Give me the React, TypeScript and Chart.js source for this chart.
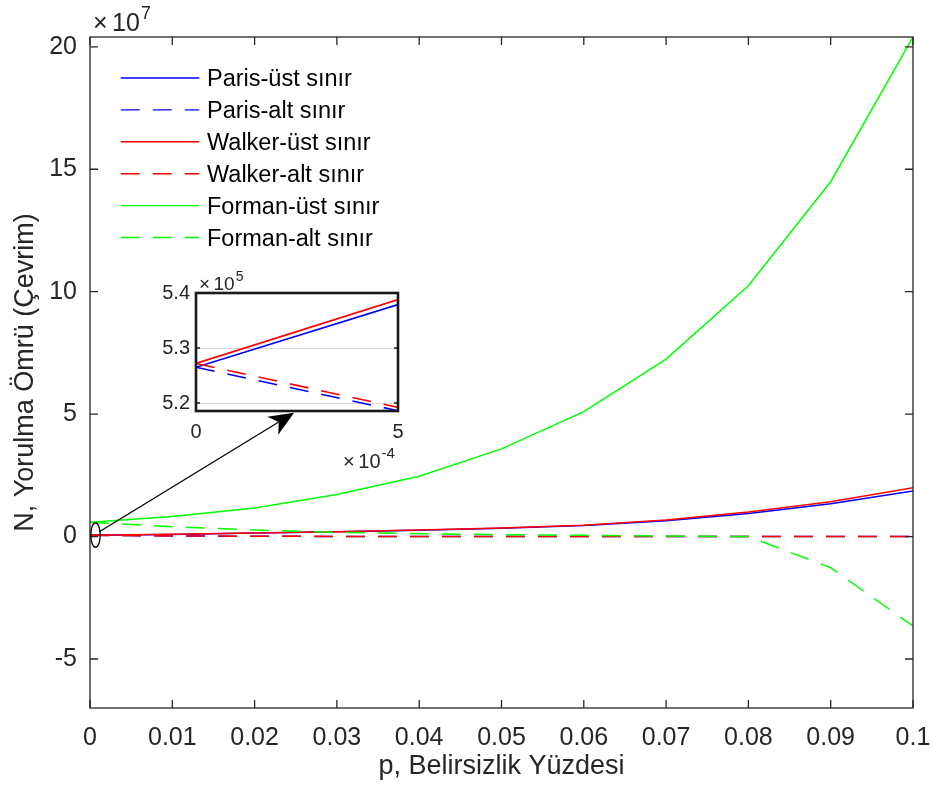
import React, { useEffect, useRef } from "react";
import { Chart, registerables } from "chart.js";

Chart.register(...registerables);

const FONT = "'Liberation Sans', Arial, Helvetica, sans-serif";
const AXIS_COLOR = "#262626";

// ---- main chart data ----
const pValues = [0, 0.01, 0.02, 0.03, 0.04, 0.05, 0.06, 0.07, 0.08, 0.09, 0.1];
const parisUpper = [5.265e5, 0.088e7, 0.145e7, 0.195e7, 0.26e7, 0.34e7, 0.45e7, 0.65e7, 0.94e7, 1.34e7, 1.86e7];
const parisLower = [5.265e5, 0.024e7, 0.012e7, 0.006e7, 0.003e7, 0.0015e7, 0.0008e7, 0.0004e7, 0.0002e7, 0.0001e7, 0.00005e7];
const walkerUpper = [5.272e5, 0.09e7, 0.15e7, 0.2e7, 0.27e7, 0.35e7, 0.46e7, 0.68e7, 1.0e7, 1.42e7, 1.99e7];
const walkerLower = [5.272e5, 0.026e7, 0.013e7, 0.007e7, 0.0035e7, 0.0018e7, 0.0009e7, 0.0005e7, 0.0002e7, 0.0001e7, 0.00005e7];
const formanUpper = [0.59e7, 0.82e7, 1.17e7, 1.72e7, 2.46e7, 3.58e7, 5.1e7, 7.25e7, 10.24e7, 14.49e7, 20.4e7];
const formanLower = [0.59e7, 0.4e7, 0.27e7, 0.17e7, 0.12e7, 0.08e7, 0.05e7, 0.02e7, 0, -1.27e7, -3.65e7];

const seriesLabels = [
  "Paris-üst sınır",
  "Paris-alt sınır",
  "Walker-üst sınır",
  "Walker-alt sınır",
  "Forman-üst sınır",
  "Forman-alt sınır",
];
const seriesValues = [parisUpper, parisLower, walkerUpper, walkerLower, formanUpper, formanLower];
const seriesColors = ["#0000ff", "#0000ff", "#ff0000", "#ff0000", "#00ff00", "#00ff00"];
const seriesDashed = [false, true, false, true, false, true];

const xTickValues = [0, 0.01, 0.02, 0.03, 0.04, 0.05, 0.06, 0.07, 0.08, 0.09, 0.1];
const yTickValues = [-5e7, 0, 5e7, 10e7, 15e7, 20e7];
const xRange = [0, 0.1];
const yRange = [-7e7, 20.4e7];
const xTitle = "p, Belirsizlik Yüzdesi";
const yTitle = "N, Yorulma Ömrü (Çevrim)";
const yExponent = "7";

// zoom marker (ellipse at origin) and arrow, in data units
const markerCenter = [0.00067, 0.065e7];
const markerRadius = [0.00057, 0.5e7];
const arrowFrom = [0.00113, 0.196e7];
const arrowTo = [0.0248, 5.06e7];

// ---- inset data ----
const insetX = [0, 0.0005];
const insetParisUpper = [5.265e5, 5.379e5];
const insetParisLower = [5.265e5, 5.186e5];
const insetWalkerUpper = [5.272e5, 5.388e5];
const insetWalkerLower = [5.272e5, 5.192e5];
const insetValues = [insetParisUpper, insetParisLower, insetWalkerUpper, insetWalkerLower];
const insetColors = ["#0000ff", "#0000ff", "#ff0000", "#ff0000"];
const insetDashed = [false, true, false, true];
const insetXTicks = [0, 0.0005];
const insetYTicks = [5.2e5, 5.3e5, 5.4e5];
const insetXRange = [0, 0.0005];
const insetYRange = [5.1855e5, 5.4e5];

const DASH = [19, 13];

function drawExponent(ctx: CanvasRenderingContext2D, x: number, y: number, exp: string, size: number, supSize: number) {
  ctx.fillStyle = AXIS_COLOR;
  ctx.textAlign = "left";
  ctx.textBaseline = "alphabetic";
  ctx.font = `${size}px ${FONT}`;
  ctx.fillText("×", x, y);
  const w1 = ctx.measureText("×").width;
  ctx.fillText("10", x + w1 + size * 0.18, y);
  const w2 = ctx.measureText("10").width;
  ctx.font = `${supSize}px ${FONT}`;
  ctx.fillText(exp, x + w1 + size * 0.18 + w2 + 1, y - size * 0.5);
}

const mainDecor = {
  id: "mainDecor",
  afterDatasetsDraw(chart: any) {
    const { ctx, chartArea: a, scales } = chart;
    const x = scales.x;
    const y = scales.y;
    ctx.save();
    // frame + inward ticks
    ctx.strokeStyle = AXIS_COLOR;
    ctx.lineWidth = 1.3;
    ctx.strokeRect(a.left, a.top, a.right - a.left, a.bottom - a.top);
    const tl = 8;
    ctx.beginPath();
    xTickValues.forEach((v) => {
      const px = x.getPixelForValue(v);
      ctx.moveTo(px, a.bottom);
      ctx.lineTo(px, a.bottom - tl);
      ctx.moveTo(px, a.top);
      ctx.lineTo(px, a.top + tl);
    });
    yTickValues.forEach((v) => {
      const py = y.getPixelForValue(v);
      ctx.moveTo(a.left, py);
      ctx.lineTo(a.left + tl, py);
      ctx.moveTo(a.right, py);
      ctx.lineTo(a.right - tl, py);
    });
    ctx.stroke();

    // exponent label
    drawExponent(ctx, a.left + 3, a.top - 6, yExponent, 25, 18);

    // legend
    const lx0 = a.left + 30.7;
    const lx1 = a.left + 109.3;
    const tx = a.left + 117;
    const ly0 = a.top + 41;
    const step = 31.9;
    chart.data.datasets.forEach((ds: any, i: number) => {
      const ly = ly0 + i * step;
      ctx.strokeStyle = ds.borderColor;
      ctx.lineWidth = 1.4;
      ctx.setLineDash(ds.borderDash || []);
      ctx.beginPath();
      ctx.moveTo(lx0, ly);
      ctx.lineTo(lx1, ly);
      ctx.stroke();
      ctx.setLineDash([]);
      ctx.fillStyle = "#000000";
      ctx.font = `23.5px ${FONT}`;
      ctx.textAlign = "left";
      ctx.textBaseline = "middle";
      ctx.fillText(ds.label, tx, ly + 1.6);
    });

    // marker ellipse
    const cx = x.getPixelForValue(markerCenter[0]);
    const cy = y.getPixelForValue(markerCenter[1]);
    const rx = Math.abs(x.getPixelForValue(markerCenter[0] + markerRadius[0]) - cx);
    const ry = Math.abs(y.getPixelForValue(markerCenter[1] + markerRadius[1]) - cy);
    ctx.strokeStyle = "#000000";
    ctx.lineWidth = 1.3;
    ctx.beginPath();
    ctx.ellipse(cx, cy, rx, ry, 0, 0, Math.PI * 2);
    ctx.stroke();

    // arrow
    const sx = x.getPixelForValue(arrowFrom[0]);
    const sy = y.getPixelForValue(arrowFrom[1]);
    const ex = x.getPixelForValue(arrowTo[0]);
    const ey = y.getPixelForValue(arrowTo[1]);
    const dx = ex - sx;
    const dy = ey - sy;
    const len = Math.hypot(dx, dy);
    const ux = dx / len;
    const uy = dy / len;
    const L = 25;
    const W = 10.5;
    const bx = ex - ux * L;
    const by = ey - uy * L;
    const nx = ex - ux * L * 0.72;
    const ny = ey - uy * L * 0.72;
    ctx.beginPath();
    ctx.moveTo(sx, sy);
    ctx.lineTo(nx, ny);
    ctx.stroke();
    ctx.fillStyle = "#000000";
    ctx.beginPath();
    ctx.moveTo(ex, ey);
    ctx.lineTo(bx - uy * W, by + ux * W);
    ctx.lineTo(nx, ny);
    ctx.lineTo(bx + uy * W, by - ux * W);
    ctx.closePath();
    ctx.fill();
    ctx.restore();
  },
};

const insetDecor = {
  id: "insetDecor",
  beforeDraw(chart: any) {
    const { ctx, chartArea: a } = chart;
    ctx.save();
    ctx.fillStyle = "#ffffff";
    ctx.fillRect(a.left, a.top, a.right - a.left, a.bottom - a.top);
    ctx.restore();
  },
  afterDatasetsDraw(chart: any) {
    const { ctx, chartArea: a, scales } = chart;
    const y = scales.y;
    ctx.save();
    ctx.strokeStyle = "#1a1a1a";
    ctx.lineWidth = 2.6;
    ctx.strokeRect(a.left, a.top, a.right - a.left, a.bottom - a.top);
    ctx.lineWidth = 1.6;
    ctx.beginPath();
    insetYTicks.forEach((v) => {
      const py = y.getPixelForValue(v);
      ctx.moveTo(a.left, py);
      ctx.lineTo(a.left + 4, py);
      ctx.moveTo(a.right, py);
      ctx.lineTo(a.right - 4, py);
    });
    ctx.stroke();
    drawExponent(ctx, a.left + 3, a.top - 3, "5", 19, 14);
    drawExponent(ctx, a.right - 55, a.bottom + 57, "-4", 20, 15);
    ctx.restore();
  },
};

function fmtX(v: number) {
  return String(Number(v.toFixed(3)));
}

function zeroPadding(s: any) {
  s.paddingLeft = 0;
  s.paddingRight = 0;
  s.paddingTop = 0;
  s.paddingBottom = 0;
}

export default function App() {
  const mainRef = useRef<HTMLCanvasElement>(null);
  const insetRef = useRef<HTMLCanvasElement>(null);

  useEffect(() => {
    document.body.style.margin = "0";
    const datasets = seriesLabels.map((label, i) => ({
      label,
      data: pValues.map((p, j) => ({ x: p, y: seriesValues[i][j] })),
      borderColor: seriesColors[i],
      backgroundColor: seriesColors[i],
      borderWidth: 1.5,
      borderDash: seriesDashed[i] ? DASH : [],
      pointRadius: 0,
      tension: 0,
      fill: false,
      order: 10 - i,
    }));

    const main = new Chart(mainRef.current as HTMLCanvasElement, {
      type: "line",
      data: { datasets },
      options: {
        animation: false,
        responsive: false,
        maintainAspectRatio: false,
        events: [],
        layout: { padding: { top: 37, right: 18, left: 0, bottom: 0 } },
        plugins: { legend: { display: false }, tooltip: { enabled: false } },
        scales: {
          x: {
            type: "linear",
            min: xRange[0],
            max: xRange[1],
            afterBuildTicks: (s: any) => {
              s.ticks = xTickValues.map((v) => ({ value: v }));
            },
            afterFit: (s: any) => {
              s.height = 84;
              zeroPadding(s);
            },
            ticks: {
              callback: (v: any) => fmtX(Number(v)),
              font: { family: FONT, size: 25 },
              color: AXIS_COLOR,
              maxRotation: 0,
              autoSkip: false,
              padding: 15,
            },
            grid: { display: false, drawTicks: false },
            border: { display: false },
            title: {
              display: true,
              text: xTitle,
              font: { family: FONT, size: 27 },
              color: AXIS_COLOR,
              padding: { top: 9, bottom: 9 },
            },
          },
          y: {
            type: "linear",
            min: yRange[0],
            max: yRange[1],
            afterBuildTicks: (s: any) => {
              s.ticks = yTickValues.map((v) => ({ value: v }));
            },
            afterFit: (s: any) => {
              s.width = 90;
              zeroPadding(s);
            },
            ticks: {
              callback: (v: any) => String(Math.round(Number(v) / 1e7)),
              font: { family: FONT, size: 25 },
              color: AXIS_COLOR,
              padding: 13,
            },
            grid: { display: false, drawTicks: false },
            border: { display: false },
            title: {
              display: true,
              text: yTitle,
              font: { family: FONT, size: 27 },
              color: AXIS_COLOR,
              padding: { top: 9, bottom: 9 },
            },
          },
        },
      },
      plugins: [mainDecor],
    } as any);

    const insetDatasets = insetValues.map((vals, i) => ({
      label: seriesLabels[i],
      data: insetX.map((p, j) => ({ x: p, y: vals[j] })),
      borderColor: insetColors[i],
      borderWidth: 1.6,
      borderDash: insetDashed[i] ? DASH : [],
      pointRadius: 0,
      tension: 0,
      fill: false,
      order: 10 - i,
    }));

    const inset = new Chart(insetRef.current as HTMLCanvasElement, {
      type: "line",
      data: { datasets: insetDatasets },
      options: {
        animation: false,
        responsive: false,
        maintainAspectRatio: false,
        events: [],
        layout: { padding: { top: 28, right: 12, left: 0, bottom: 0 } },
        plugins: { legend: { display: false }, tooltip: { enabled: false } },
        scales: {
          x: {
            type: "linear",
            min: insetXRange[0],
            max: insetXRange[1],
            afterBuildTicks: (s: any) => {
              s.ticks = insetXTicks.map((v) => ({ value: v }));
            },
            afterFit: (s: any) => {
              s.height = 64;
              zeroPadding(s);
            },
            ticks: {
              callback: (v: any) => String(Math.round(Number(v) / 1e-4)),
              font: { family: FONT, size: 20 },
              color: AXIS_COLOR,
              maxRotation: 0,
              autoSkip: false,
              padding: 9,
            },
            grid: { display: false, drawTicks: false },
            border: { display: false },
          },
          y: {
            type: "linear",
            min: insetYRange[0],
            max: insetYRange[1],
            afterBuildTicks: (s: any) => {
              s.ticks = insetYTicks.map((v) => ({ value: v }));
            },
            afterFit: (s: any) => {
              s.width = 56;
              zeroPadding(s);
            },
            ticks: {
              callback: (v: any) => (Number(v) / 1e5).toFixed(1),
              font: { family: FONT, size: 20 },
              color: AXIS_COLOR,
              padding: 6,
            },
            grid: { display: true, drawTicks: false, color: "#dcdcdc", lineWidth: 1 },
            border: { display: false },
          },
        },
      },
      plugins: [insetDecor],
    } as any);

    return () => {
      main.destroy();
      inset.destroy();
    };
  }, []);

  return (
    <div style={{ position: "relative", width: 931, height: 792, background: "#ffffff", overflow: "hidden" }}>
      <canvas ref={mainRef} width={931} height={792} style={{ position: "absolute", left: 0, top: 0 }} />
      <canvas ref={insetRef} width={270} height={210} style={{ position: "absolute", left: 140, top: 265 }} />
    </div>
  );
}
